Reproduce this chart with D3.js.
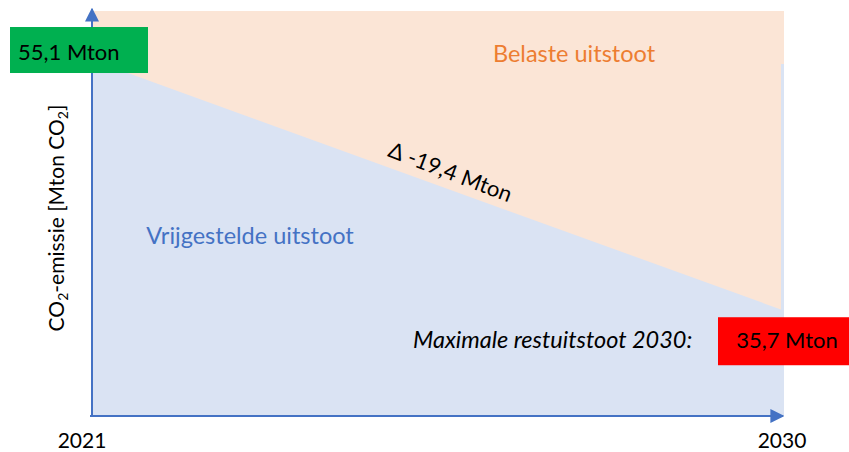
<!DOCTYPE html>
<html>
<head>
<meta charset="utf-8">
<script src="https://cdn.jsdelivr.net/npm/d3@7"></script>
<style>
  body { margin: 0; background: #fff; }
  text { font-family: Lato, 'Open Sans', sans-serif; }
</style>
</head>
<body>
<script>
let width = 849
let height = 452

// chart values
let years = [2021, 2030]
let emissions = [55.1, 35.7]
let axisExtent = [27.5, 58.9]   // schematic emission range shown on the axis
let startLabel = '55,1 Mton'
let endLabel = '35,7 Mton'
let deltaLabel = '\u0394 -19,4 Mton'
let areaLabels = ['Belaste uitstoot', 'Vrijgestelde uitstoot']
let endCaption = 'Maximale restuitstoot 2030:'

let blue = '#4472c4'

let svg = d3.select('body')
    .append('svg')
        .attr('width', width)
        .attr('height', height)

let defs = svg.append('defs')
defs.append('marker')
        .attr('id', 'arrow')
        .attr('viewBox', '0 0 10 10')
        .attr('refX', 9)
        .attr('refY', 5)
        .attr('markerWidth', 14)
        .attr('markerHeight', 14)
        .attr('markerUnits', 'userSpaceOnUse')
        .attr('orient', 'auto')
    .append('path')
        .attr('d', 'M0,0 L10,5 L0,10 Z')
        .attr('fill', blue)

let x = d3.scaleLinear()
    .domain(years)
    .range([92, 783])

let y = d3.scaleLinear()
    .domain(axisExtent)
    .range([416, 11])

let points = years.map((yr, i) => [yr, emissions[i]])

// belaste uitstoot (background)
svg.append('rect')
    .attr('x', x(years[0]))
    .attr('y', y(axisExtent[1]))
    .attr('width', x(years[1]) - x(years[0]) + 1)
    .attr('height', y(axisExtent[0]) - y(axisExtent[1]))
    .attr('fill', '#fbe5d6')

// vrijgestelde uitstoot
let area = d3.area()
    .x(d => x(d[0]))
    .y0(y(axisExtent[0]))
    .y1(d => y(d[1]))

svg.append('path')
    .datum(points)
    .attr('d', area)
    .attr('fill', '#dae3f3')

svg.append('rect')
    .attr('x', x(years[1]) - 2)
    .attr('y', y(emissions[0]) + 4)
    .attr('width', 3)
    .attr('height', y(axisExtent[0]) - y(emissions[0]) - 4)
    .attr('fill', '#dae3f3')

// axes
svg.append('line')
    .attr('x1', x(years[0]))
    .attr('x2', x(years[0]))
    .attr('y1', y(axisExtent[0]))
    .attr('y2', 9)
    .attr('stroke', blue)
    .attr('stroke-width', 2)
    .attr('marker-end', 'url(#arrow)')

svg.append('line')
    .attr('x1', x(years[0]) - 2)
    .attr('x2', x(years[1]))
    .attr('y1', y(axisExtent[0]))
    .attr('y2', y(axisExtent[0]))
    .attr('stroke', blue)
    .attr('stroke-width', 2)
    .attr('marker-end', 'url(#arrow)')

// year labels
svg.selectAll('.year')
    .data(years)
    .enter()
    .append('text')
        .attr('class', 'year')
        .attr('x', (d, i) => x(d) + (i === 0 ? -10 : -1))
        .attr('y', 448)
        .attr('text-anchor', 'middle')
        .attr('font-size', 21)
        .attr('fill', '#000')
        .text(d => d)

// y label
let ylab = svg.append('text')
    .attr('transform', 'translate(64,218) rotate(-90)')
    .attr('text-anchor', 'middle')
    .attr('font-size', 21)
    .attr('fill', '#000')
ylab.append('tspan').text('CO')
ylab.append('tspan').attr('font-size', 14).attr('dy', 4).text('2')
ylab.append('tspan').attr('dy', -4).text('-emissie [Mton CO')
ylab.append('tspan').attr('font-size', 14).attr('dy', 4).text('2')
ylab.append('tspan').attr('dy', -4).text(']')

// area labels
svg.append('text')
    .attr('x', 574)
    .attr('y', 62)
    .attr('text-anchor', 'middle')
    .attr('font-size', 23.5)
    .attr('fill', '#ed7d31')
    .text(areaLabels[0])

svg.append('text')
    .attr('x', 250)
    .attr('y', 244)
    .attr('text-anchor', 'middle')
    .attr('font-size', 23.5)
    .attr('fill', blue)
    .text(areaLabels[1])

// delta label along the line
let angle = Math.atan2(y(emissions[1]) - y(emissions[0]), x(years[1]) - x(years[0])) * 180 / Math.PI
let t = 0.51
let midYear = years[0] + t * (years[1] - years[0])
let midVal = emissions[0] + t * (emissions[1] - emissions[0])
svg.append('text')
    .attr('transform', 'translate(' + x(midYear) + ',' + y(midVal) + ') rotate(' + (angle + 1) + ')')
    .attr('y', -9)
    .attr('text-anchor', 'middle')
    .attr('font-size', 22)
    .attr('fill', '#000')
    .text(deltaLabel)

// start value box
svg.append('rect')
    .attr('x', x(years[0]) - 82)
    .attr('y', y(emissions[0]) - 33)
    .attr('width', 138)
    .attr('height', 46)
    .attr('fill', '#00b050')

svg.append('text')
    .attr('x', x(years[0]) - 74)
    .attr('y', y(emissions[0]))
    .attr('font-size', 22)
    .attr('fill', '#000')
    .text(startLabel)

// end value box
svg.append('rect')
    .attr('x', x(years[1]) - 65)
    .attr('y', y(emissions[1]) + 7)
    .attr('width', 131)
    .attr('height', 48)
    .attr('fill', '#ff0000')

svg.append('text')
    .attr('x', x(years[1]) + 4)
    .attr('y', y(emissions[1]) + 38)
    .attr('text-anchor', 'middle')
    .attr('font-size', 22)
    .attr('fill', '#000')
    .text(endLabel)

svg.append('text')
    .attr('x', 413)
    .attr('y', y(emissions[1]) + 38)
    .attr('font-size', 23.5)
    .attr('font-style', 'italic')
    .attr('fill', '#000')
    .text(endCaption)
</script>
</body>
</html>
